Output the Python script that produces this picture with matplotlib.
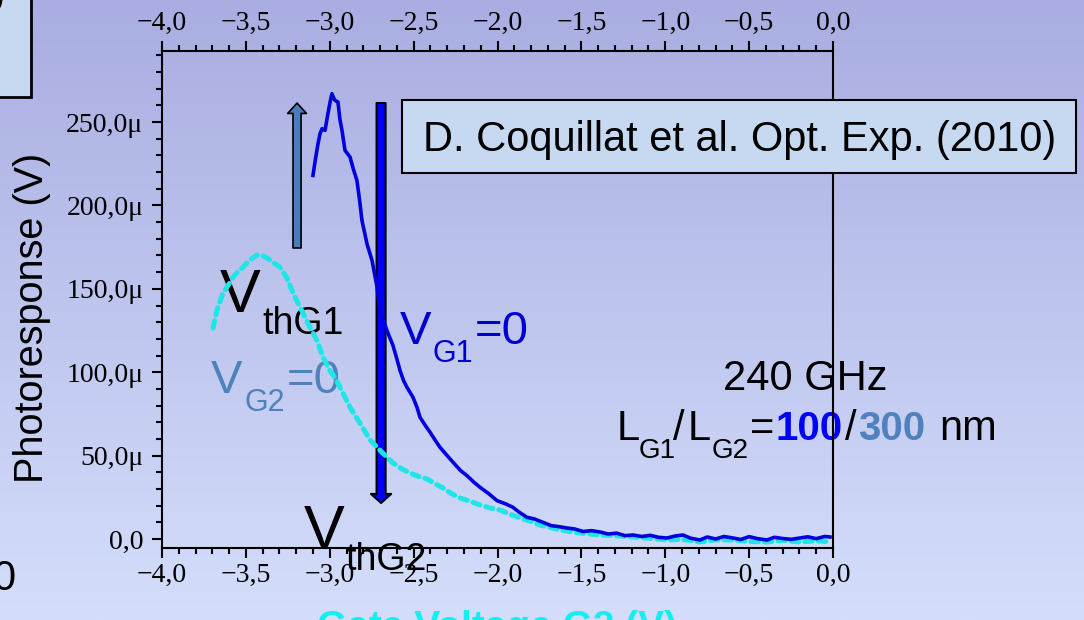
import numpy as np
import matplotlib
matplotlib.use("Agg")
import matplotlib.pyplot as plt
import matplotlib.transforms as mtransforms
from matplotlib.patches import Rectangle, FancyArrowPatch, ArrowStyle
from matplotlib.ticker import MultipleLocator

plt.rcParams["font.family"] = ["Liberation Serif", "DejaVu Serif"]

# ---- measured photoresponse (µV) versus gate voltage G2 (V) ----
vg1_v = [-3.100, -3.085, -3.070, -3.058, -3.046, -3.028, -3.011, -2.998, -2.987, -2.975,
         -2.969, -2.951, -2.940, -2.927, -2.909, -2.879, -2.860, -2.838, -2.822, -2.808,
         -2.778, -2.748, -2.718, -2.700, -2.680, -2.659, -2.623, -2.600, -2.581, -2.560,
         -2.540, -2.504, -2.480, -2.462, -2.430, -2.402, -2.370, -2.343, -2.300, -2.265,
         -2.220, -2.182, -2.140, -2.104, -2.050, -2.003, -1.950, -1.908, -1.870, -1.824,
         -1.780, -1.729, -1.680, -1.640, -1.586, -1.540, -1.490, -1.440, -1.389, -1.340,
         -1.290, -1.240, -1.192, -1.140, -1.090, -1.040, -0.990, -0.940, -0.894, -0.850,
         -0.793, -0.750, -0.700, -0.650, -0.596, -0.550, -0.500, -0.450, -0.393, -0.350,
         -0.300, -0.250, -0.197, -0.150, -0.100, -0.050, -0.018]
vg1_uv = [218, 228, 237, 243, 246, 245, 255, 262, 267, 264,
          263, 262, 252, 245, 233, 229, 222, 215, 203, 191,
          177, 167, 151, 135, 131, 125, 116, 108, 101, 95,
          91, 85, 79, 73, 68, 64, 59, 55, 50, 46,
          41, 38, 34, 31, 27, 23, 21, 19, 16, 13,
          12, 10, 8, 7.5, 6.6, 6, 4.5, 5, 4.2, 3,
          3.5, 2, 2.4, 1.5, 2.2, 1, 0.6, 1.8, 2.4, 0.5,
          -0.6, 1.2, 0, 1.5, 0.6, -0.3, 1.4, 0.2, -0.6, 1.0,
          0.3, -0.2, 0.6, 1.3, 0.2, 1.5, 1.2]

vg2_v = [-3.696, -3.670, -3.636, -3.600, -3.577, -3.550, -3.517, -3.480, -3.434, -3.400,
         -3.374, -3.340, -3.297, -3.255, -3.219, -3.177, -3.118, -3.076, -3.040, -2.999,
         -2.970, -2.939, -2.879, -2.820, -2.760, -2.689, -2.623, -2.570, -2.522, -2.470,
         -2.420, -2.370, -2.325, -2.270, -2.224, -2.160, -2.104, -2.040, -1.985, -1.930,
         -1.866, -1.800, -1.747, -1.690, -1.627, -1.570, -1.508, -1.450, -1.389, -1.300,
         -1.192, -1.100, -0.990, -0.900, -0.793, -0.700, -0.596, -0.500, -0.393, -0.300,
         -0.197, -0.100, -0.018]
vg2_uv = [126.5, 138, 147.5, 153, 157, 160, 163, 167, 170.3, 170,
          168.5, 166, 163, 156.5, 147.5, 139, 127, 119, 109, 101,
          97, 91, 79, 69.5, 59.5, 52, 45.6, 42, 39.6, 37.5,
          36, 33, 30.6, 27, 24.6, 22.5, 20.4, 18.5, 17.4, 15,
          12.6, 10.5, 8.4, 7, 5.4, 4.5, 3.6, 3.0, 2.4, 2.0,
          1.2, 0.5, -0.6, -0.2, -1.8, -0.5, -0.6, -1.5, -1.8, -0.8,
          -1.8, -1.0, -1.8]

# threshold markers: (gate voltage, start µV, end µV)
thg1_arrow = (-3.195, 174.5, 261.4)
thg2_arrow = (-2.694, 261.4, 21.6)

xtick_vals = [-4.0, -3.5, -3.0, -2.5, -2.0, -1.5, -1.0, -0.5, 0.0]
xtick_labels = ["\u22124,0", "\u22123,5", "\u22123,0", "\u22122,5", "\u22122,0",
                "\u22121,5", "\u22121,0", "\u22120,5", "0,0"]
ytick_vals = [0, 50, 100, 150, 200, 250]
ytick_labels = ["0,0", "50,0\u03bc", "100,0\u03bc", "150,0\u03bc", "200,0\u03bc", "250,0\u03bc"]

W, H = 1084, 620
fig = plt.figure(figsize=(W / 100, H / 100), dpi=100)

# slide background gradient
bg = fig.add_axes([0, 0, 1, 1], zorder=-5)
bg.axis("off")
top_c = np.array([169, 173, 225]) / 255
bot_c = np.array([212, 222, 251]) / 255
t = np.linspace(0, 1, 256)[:, None, None]
bg.imshow(top_c + (bot_c - top_c) * t, aspect="auto", extent=[0, 1, 0, 1])

ax = fig.add_axes([162 / W, 1 - 548 / H, (833 - 162) / W, (548 - 51) / H])
ax.set_facecolor("none")

# pixel coordinates measured from the top-left corner of the figure
PX = mtransforms.Affine2D().scale(1 / W, -1 / H).translate(0, 1) + fig.transFigure

SANS = ["Liberation Sans", "DejaVu Sans"]


def put(x, y, s, size, color="black", weight="normal", zorder=1.0, **kw):
    return ax.text(x, y, s, transform=PX, fontsize=size, color=color,
                   fontweight=weight, family=SANS, ha=kw.pop("ha", "left"),
                   va=kw.pop("va", "baseline"), clip_on=False, zorder=zorder, **kw)


# curves
ax.plot(vg2_v, vg2_uv, color="#1CE6E6", lw=3.6, dashes=(1.5, 1.2),
        dash_capstyle="round", zorder=2.1)
ax.plot(vg1_v, vg1_uv, color="#0000DD", lw=2.6, zorder=2.2)

# threshold arrows
up = FancyArrowPatch((thg1_arrow[0], thg1_arrow[1]), (thg1_arrow[0], thg1_arrow[2]),
                     arrowstyle=ArrowStyle.Simple(head_length=7.5, head_width=13.5, tail_width=5.8),
                     mutation_scale=1, shrinkA=0, shrinkB=0,
                     fc="#4A7EBB", ec="black", lw=1.2, zorder=1.5, clip_on=False)
down = FancyArrowPatch((thg2_arrow[0], thg2_arrow[1]), (thg2_arrow[0], thg2_arrow[2]),
                       arrowstyle=ArrowStyle.Simple(head_length=6.5, head_width=14.5, tail_width=6.5),
                       mutation_scale=1, shrinkA=0, shrinkB=0,
                       fc="#0000FF", ec="black", lw=1.5, zorder=1.5, clip_on=False)
ax.add_patch(up)
ax.add_patch(down)

# axes and ticks
ax.set_xlim(-4.0, 0.0)
ax.set_ylim(-5.4, 292.6)
ax.set_xticks(xtick_vals, labels=xtick_labels, fontsize=20)
ax.set_yticks(ytick_vals, labels=ytick_labels, fontsize=20)
ax.xaxis.set_minor_locator(MultipleLocator(0.1))
ax.yaxis.set_minor_locator(MultipleLocator(10))
ax.tick_params(which="both", direction="out", top=True, labeltop=True,
               bottom=True, labelbottom=True, left=True, right=False,
               width=1.5, colors="black")
ax.tick_params(which="major", length=7.5)
ax.tick_params(which="minor", length=4)
ax.tick_params(axis="x", which="major", pad=3.5)
ax.tick_params(axis="y", which="major", pad=6)
for sp in ax.spines.values():
    sp.set_linewidth(1.5)

# axis titles
put(32, 318, "Photoresponse (V)", 28.5, rotation=90, ha="center", va="center")
put(497, 638, "Gate Voltage G2 (V)", 28, color="#10F0F0", weight="bold", ha="center")

# threshold labels
put(220, 312, "V", 44)
put(262, 334, "thG1", 27)
put(304, 548, "V", 44)
put(345, 570, "thG2", 27)

# curve labels
STEEL = "#4F81BD"
put(211, 393, "V", 34, color=STEEL)
put(244, 411, "G2", 22, color=STEEL)
put(287, 393, "=0", 34, color=STEEL)
put(400, 344, "V", 34, color="#0000CC")
put(433, 362, "G1", 22, color="#0000CC")
put(475, 344, "=0", 34, color="#0000CC")

# frequency and gate lengths
put(723, 390, "240 GHz", 30)
put(617, 440, "L", 30)
put(639, 458, "G1", 20)
put(673, 440, "/", 30)
put(688, 440, "L", 30)
put(712, 458, "G2", 20)
put(750, 440, "=", 30)
put(776, 440, "100", 29, color="#0000FF", weight="bold")
put(845, 440, "/", 30)
put(858, 440, "300", 29, color=STEEL, weight="bold")
put(939, 440, "nm", 30)

# reference box
ax.add_patch(Rectangle((402, 100), 674, 73, transform=PX, fc="#C6D9F1", ec="black",
                       lw=1.5, clip_on=False, zorder=3))
put(423, 151, "D. Coquillat et al. Opt. Exp. (2010)", 30, zorder=3.1)

# slide fragments at the left edge
ax.add_patch(Rectangle((-10, -10), 41, 107, transform=PX, fc="#C6D9F1", ec="black",
                       lw=2, clip_on=False, zorder=3))
put(4, 12, "0", 30, ha="right", zorder=3.1)
put(16, 590, "0", 30, ha="right")

fig.savefig("out.png", dpi=100)
